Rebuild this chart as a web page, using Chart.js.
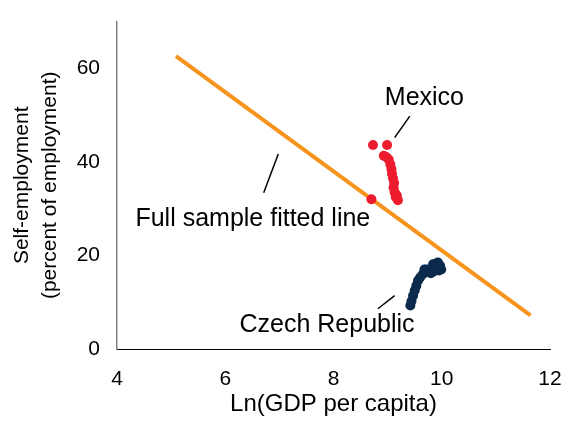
<!DOCTYPE html>
<html>
<head>
<meta charset="utf-8">
<script src="https://cdn.jsdelivr.net/npm/chart.js@4/dist/chart.umd.min.js"></script>
<style>
  html, body { margin: 0; padding: 0; background: #fff; }
  #wrap { width: 573px; height: 421px; }
</style>
</head>
<body>
<div id="wrap"><canvas id="chart" width="573" height="421"></canvas></div>
<script>
// valores
var mexicoX = [8.73, 8.99, 8.93, 8.98, 9.02, 9.05, 9.07, 9.08, 9.10, 9.12, 9.11, 9.13, 9.15, 9.17, 9.19, 8.70];
var mexicoY = [43.6, 43.6, 41.3, 41.0, 40.5, 39.5, 38.5, 37.5, 36.5, 35.5, 34.5, 33.5, 32.5, 32.8, 31.8, 32.0];

var czechX = [9.42, 9.44, 9.47, 9.50, 9.53, 9.56, 9.60, 9.65, 9.68, 9.72, 9.76, 9.80, 9.84, 9.86, 9.90, 9.93, 9.97, 9.99, 9.95, 9.84];
var czechY = [9.3, 10.2, 11.4, 12.5, 13.5, 14.6, 15.3, 16.0, 17.0, 17.0, 16.5, 16.2, 16.5, 17.5, 18.3, 18.5, 17.8, 17.0, 16.8, 18.1];

var fitX = [5.09, 11.64];
var fitY = [62.6, 7.2];

var xTicks = [4, 6, 8, 10, 12];
var yTicks = [0, 20, 40, 60];

// rótulos e linhas de chamada
var labelText = ["Full sample fitted line", "Mexico", "Czech Republic"];
var labelX = [6.51, 9.68, 7.88];
var labelY = [27.7, 53.7, 5.1];
var leaderX = [[6.98, 6.71], [9.41, 9.13], [9.13, 8.82]];
var leaderY = [[41.7, 33.4], [49.8, 45.2], [11.4, 8.6]];

var FONT = "'Liberation Sans', Arial, sans-serif";

function toPoints(xs, ys) {
    return xs.map(function (x, i) { return { x: x, y: ys[i] }; });
}

var datasets = [
    {
        label: "Fitted",
        data: toPoints(fitX, fitY),
        showLine: true,
        borderColor: "#f7941d",
        borderWidth: 4,
        pointRadius: 0,
        order: 3
    },
    {
        label: "Mexico",
        data: toPoints(mexicoX, mexicoY),
        backgroundColor: "#ec1c2e",
        borderColor: "#ec1c2e",
        pointRadius: 5,
        borderWidth: 0,
        order: 1
    },
    {
        label: "Czech Republic",
        data: toPoints(czechX, czechY),
        backgroundColor: "#0c2a4c",
        borderColor: "#0c2a4c",
        pointRadius: 5,
        borderWidth: 0,
        order: 1
    }
];

for (var k = 0; k < leaderX.length; k++) {
    datasets.push({
        label: "leader" + k,
        data: toPoints(leaderX[k], leaderY[k]),
        showLine: true,
        borderColor: "#000",
        borderWidth: 1.5,
        pointRadius: 0,
        order: 0
    });
}

var labelPlugin = {
    id: "labels",
    afterDatasetsDraw: function (chart) {
        var ctx = chart.ctx;
        var xs = chart.scales.x, ys = chart.scales.y;
        ctx.save();
        ctx.fillStyle = "#000";
        ctx.font = "25px " + FONT;
        ctx.textAlign = "center";
        ctx.textBaseline = "middle";
        for (var i = 0; i < labelText.length; i++) {
            ctx.fillText(labelText[i], xs.getPixelForValue(labelX[i]), ys.getPixelForValue(labelY[i]));
        }
        ctx.restore();
    }
};

var ctx = document.getElementById("chart").getContext("2d");
var chart = new Chart(ctx, {
    type: "scatter",
    data: { datasets: datasets },
    plugins: [labelPlugin],
    options: {
        responsive: false,
        animation: false,
        layout: { padding: { left: 0, top: 18, right: 23, bottom: 0 } },
        plugins: {
            legend: { display: false },
            tooltip: { enabled: false }
        },
        scales: {
            x: {
                type: "linear",
                min: 4,
                max: 12,
                afterBuildTicks: function (scale) {
                    scale.ticks = xTicks.map(function (v) { return { value: v }; });
                },
                afterFit: function (scale) { scale.height = 72; },
                grid: { display: false },
                border: { display: true, color: "#000", width: 1 },
                ticks: { color: "#000", font: { family: FONT, size: 21 }, padding: 10, maxRotation: 0 },
                title: {
                    display: true,
                    text: "Ln(GDP per capita)",
                    color: "#000",
                    font: { family: FONT, size: 24 },
                    padding: { top: 0, bottom: 2 }
                }
            },
            y: {
                type: "linear",
                min: 0,
                max: 70,
                afterBuildTicks: function (scale) {
                    scale.ticks = yTicks.map(function (v) { return { value: v }; });
                },
                afterFit: function (scale) { scale.width = 117; },
                grid: { display: false },
                border: { display: true, color: "#808080", width: 1.5 },
                ticks: { color: "#000", font: { family: FONT, size: 21 }, padding: 9 },
                title: {
                    display: true,
                    text: ["Self-employment", "(percent of employment)"],
                    color: "#000",
                    font: { family: FONT, size: 21, lineHeight: 1.3 },
                    padding: { top: 9, bottom: 0 }
                }
            }
        }
    }
});
</script>
</body>
</html>
